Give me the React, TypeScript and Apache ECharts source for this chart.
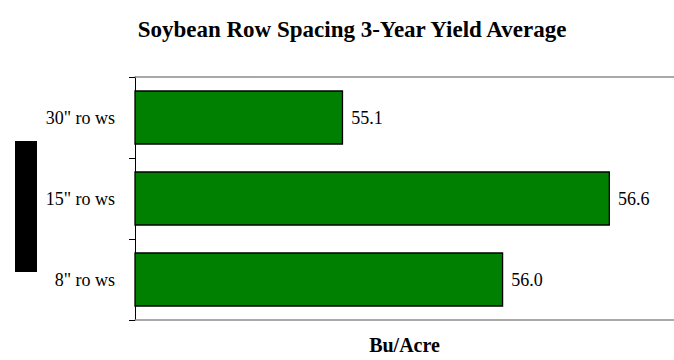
import React, { useEffect, useRef } from "react";
import * as echarts from "echarts";

const categories = ['30" ro ws', '15" ro ws', '8" ro ws'];
const yieldValues = [55.1, 56.6, 56.0];
const titleText = "Soybean Row Spacing 3-Year Yield Average";
const xAxisName = "Bu/Acre";

const SERIF = "'Liberation Serif', 'Times New Roman', Times, serif";

export default function App() {
  const ref = useRef<HTMLDivElement>(null);
  useEffect(() => {
    if (!ref.current) return;
    const chart = echarts.init(ref.current, undefined, { renderer: "svg" });
    chart.setOption({
      animation: false,
      backgroundColor: "#ffffff",
      title: {
        text: titleText,
        left: 347,
        top: 13,
        textAlign: "center",
        textStyle: { fontFamily: SERIF, fontSize: 23, fontWeight: "bold", color: "#000" },
      },
      grid: { left: 135, right: 0, top: 77, bottom: 23, containLabel: false },
      xAxis: [
        {
          type: "value",
          min: 53.93,
          max: 56.96,
          position: "bottom",
          axisLine: { show: true, lineStyle: { color: "#8c8c8c", width: 1.5 } },
          axisTick: { show: false },
          axisLabel: { show: false },
          splitLine: { show: false },
          name: xAxisName,
          nameLocation: "middle",
          nameGap: 15,
          nameTextStyle: { fontFamily: SERIF, fontSize: 20, fontWeight: "bold", color: "#000" },
        },
        {
          type: "value",
          min: 53.93,
          max: 56.96,
          position: "top",
          axisLine: { show: true, lineStyle: { color: "#8c8c8c", width: 1.5 } },
          axisTick: { show: false },
          axisLabel: { show: false },
          splitLine: { show: false },
        },
      ],
      yAxis: {
        type: "category",
        data: categories,
        inverse: true,
        axisLine: { show: true, lineStyle: { color: "#000", width: 1 } },
        axisTick: { show: true, length: 6, lineStyle: { color: "#000" } },
        axisLabel: { fontFamily: SERIF, fontSize: 18, color: "#000", margin: 20 },
      },
      graphic: [
        { type: "rect", shape: { x: 15, y: 141, width: 22, height: 131 }, style: { fill: "#000" } },
      ],
      series: [
        {
          type: "bar",
          xAxisIndex: 0,
          data: yieldValues,
          barCategoryGap: "33%",
          itemStyle: { color: "#008000", borderColor: "#000", borderWidth: 1.3 },
          label: {
            show: true,
            position: "right",
            distance: 8,
            formatter: (p: any) => Number(p.value).toFixed(1),
            fontFamily: SERIF,
            fontSize: 18,
            color: "#000",
          },
        },
      ],
    });
    return () => chart.dispose();
  }, []);
  return (
    <div
      ref={ref}
      style={{ position: "fixed", left: 0, top: 0, width: 674, height: 360 }}
    />
  );
}
